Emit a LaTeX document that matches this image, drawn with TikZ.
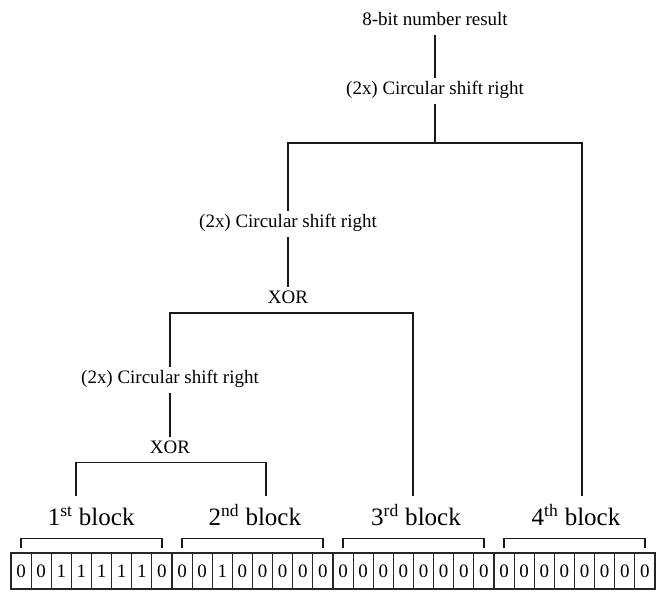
\documentclass[tikz,border=0pt]{standalone}
\usepackage{fontspec}
\setmainfont{Liberation Serif}
\usepackage{tikz}
\usetikzlibrary{positioning}

\tikzset{
  opnode/.style={inner sep=4.6pt, text height=0.7em, text depth=0.2em,
    font=\fontsize{13.5}{16}\selectfont},
  blocklabel/.style={inner sep=0pt, font=\fontsize{17.8}{21}\selectfont},
  bitcell/.style={draw=black!85, line width=0.8pt, minimum width=0.5031cm,
    minimum height=0.9cm, inner sep=0pt, font=\fontsize{13.5}{15}\selectfont},
  wire/.style={draw=black!90, line width=0.85pt}
}

\begin{document}
\begin{tikzpicture}[scale=1.0]
  \useasboundingbox (0,0) rectangle (16.4,-14.825);

  % --- Operations (top of the tree) ---
  \node[opnode] (res)  at (10.875,-0.55)  {8-bit number result};
  \node[opnode] (shA)  at (10.875,-2.275) {(2x) Circular shift right};
  \node[opnode] (shB)  at (7.2,-5.6)      {(2x) Circular shift right};
  \node[opnode] (xorA) at (7.2,-7.5)      {XOR};
  \node[opnode] (shC)  at (4.25,-9.5)     {(2x) Circular shift right};
  \node[opnode] (xorB) at (4.25,-11.24)   {XOR};

  % --- Line ends above the blocks ---
  \coordinate (j1)  at (10.875,-3.575);
  \coordinate (in1) at (1.9,-12.4);
  \coordinate (in2) at (6.65,-12.4);
  \coordinate (in3) at (10.325,-12.4);
  \coordinate (in4) at (14.55,-12.4);

  % --- Bits of the 32-bit word ---
  \foreach \v [count=\i from 0] in {0,0,1,1,1,1,1,0, 0,0,1,0,0,0,0,0,
                                    0,0,0,0,0,0,0,0, 0,0,0,0,0,0,0,0}
    \node[bitcell] (bit\i) at ({0.275+0.5031*(\i+0.5)},-14.275) {\v};

  % --- Brackets and block names ---
  \foreach \a/\b in {0/7,8/15,16/23,24/31}
    \draw[wire] ([yshift=0.1cm]bit\a.north) -- ++(0,0.25) -| ([yshift=0.1cm]bit\b.north);
  \node[blocklabel, anchor=base] (blk1) at (2.28,-13.125) {1\textsuperscript{st} block};
  \node[blocklabel, anchor=base] (blk2) at (6.37,-13.125) {2\textsuperscript{nd} block};
  \node[blocklabel, anchor=base] (blk3) at (10.4,-13.125) {3\textsuperscript{rd} block};
  \node[blocklabel, anchor=base] (blk4) at (14.4,-13.125) {4\textsuperscript{th} block};

  % --- Connections ---
  \draw[wire] (res) -- (shA);
  \draw[wire] (shA) -- (j1);
  \draw[wire] (in4) |- (j1) -| (shB.north);
  \draw[wire] (shB) -- (xorA);
  \draw[wire] (in3) |- (xorA.south) -| (shC.north);
  \draw[wire] (shC) -- (xorB);
  \draw[wire] (in1) |- (xorB.south) -| (in2);
\end{tikzpicture}
\end{document}
